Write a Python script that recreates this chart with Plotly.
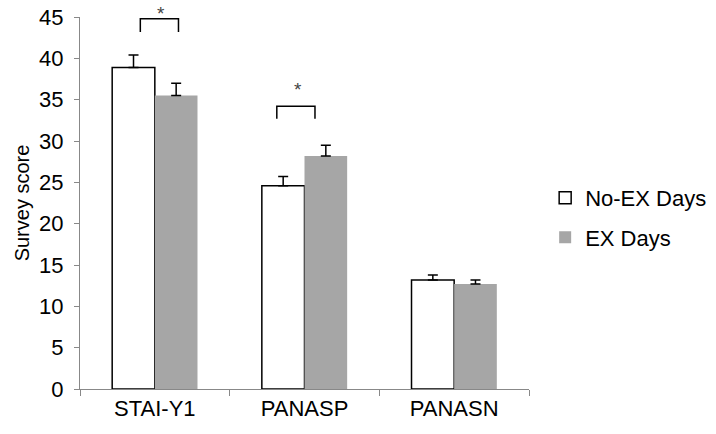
import plotly.graph_objects as go

categories = ["STAI-Y1", "PANASP", "PANASN"]
no_ex_mean = [38.9, 24.6, 13.2]
no_ex_err = [1.5, 1.1, 0.6]
ex_mean = [35.5, 28.2, 12.7]
ex_err = [1.5, 1.3, 0.5]

# significance brackets: (category index, left offset, right offset, top, leg bottom)
sig_brackets = [(0, -0.097, 0.158, 44.8, 43.2), (1, -0.185, 0.07, 34.2, 32.7)]
sig_stars = [(0, 0.042, 46.9), (1, -0.044, 37.8)]

fig = go.Figure()
fig.add_trace(go.Bar(
    x=categories, y=no_ex_mean, name="No-EX Days", legendgroup="a",
    marker=dict(color="white", line=dict(color="black", width=1.5)),
    error_y=dict(type="data", array=no_ex_err, arrayminus=[0, 0, 0], symmetric=False,
                 color="black", thickness=1.5, width=5)))
fig.add_trace(go.Bar(
    x=categories, y=ex_mean, name="EX Days", legendgroup="b",
    marker=dict(color="#a6a6a6", line=dict(color="#a6a6a6", width=0)),
    error_y=dict(type="data", array=ex_err, arrayminus=[0, 0, 0], symmetric=False,
                 color="black", thickness=1.5, width=5)))

for i, x0, x1, top, bot in sig_brackets:
    fig.add_shape(type="path",
                  path=f"M {i + x0} {bot} L {i + x0} {top} L {i + x1} {top} L {i + x1} {bot}",
                  xref="x", yref="y", line=dict(color="black", width=1.5))
for i, dx, y in sig_stars:
    fig.add_annotation(x=i + dx, y=y / 45, xref="x", yref="paper", text="*", showarrow=False,
                       font=dict(size=19, color="#444"))

fig.update_layout(
    width=716, height=434,
    margin=dict(l=80, r=187, t=17, b=45, autoexpand=False),
    paper_bgcolor="white", plot_bgcolor="white",
    barmode="group", bargap=0.43, bargroupgap=0,
    font=dict(family="Liberation Sans, Arial", size=22, color="black"),
    legend=dict(x=1.036, y=0.46, xanchor="left", yanchor="middle",
                traceorder="grouped", tracegroupgap=8,
                font=dict(size=22), itemwidth=30),
    showlegend=True,
)
fig.update_xaxes(
    showline=True, linecolor="#888", linewidth=1, automargin=False,
    ticks="outside", tickson="boundaries", ticklen=6, tickcolor="#888",
    tickfont=dict(size=22), showgrid=False, range=[-0.5, 2.5],
)
fig.update_yaxes(
    range=[0, 45], dtick=5, showline=True, linecolor="#888", linewidth=1, automargin=False,
    ticks="outside", ticklen=5, tickcolor="#888", showgrid=False, zeroline=False,
    tickfont=dict(size=22), ticklabelstandoff=6,
    title=dict(text="Survey score", font=dict(size=20), standoff=4),
)

fig.write_html("out.html", config={"displayModeBar": False},
               post_script="document.body.style.margin='0';")
